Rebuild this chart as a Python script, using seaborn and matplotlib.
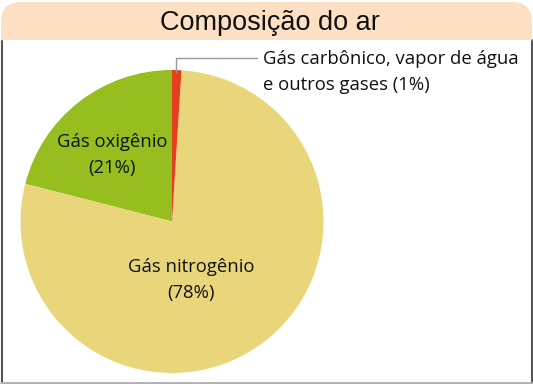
import matplotlib
matplotlib.use("Agg")
import matplotlib.pyplot as plt
import seaborn as sns
from matplotlib.patches import FancyBboxPatch, Rectangle

sns.set_theme(style="white")
plt.rcParams['font.family'] = ['Open Sans', 'DejaVu Sans']

title = "Composição do ar"
labels = ["Gás oxigênio\n(21%)", "Gás nitrogênio\n(78%)",
          "Gás carbônico, vapor de água\ne outros gases (1%)"]
values = [21, 78, 1]
colors = ["#96BE1E", "#EAD67A", "#E3401E"]

W, H = 533, 384
fig = plt.figure(figsize=(W / 100, H / 100), dpi=100)
ax = fig.add_axes([0, 0, 1, 1])

def py(y):
    return H - y

# pie
wedges, _ = ax.pie(values, colors=colors, startangle=90, counterclock=True,
                   center=(172, py(221.5)), radius=151.5, frame=True,
                   wedgeprops=dict(linewidth=0))
ax.set_xlim(0, W)
ax.set_ylim(0, H)
ax.axis("off")
for w in wedges:
    w.set_zorder(5)

# frame
ax.add_patch(Rectangle((1, py(382)), 530, 382 - 40, facecolor="white",
                       edgecolor="none", zorder=0))
ax.plot([1.5, 1.5], [py(40), py(382)], color="#555555", lw=1.5, zorder=1)
ax.plot([531.5, 531.5], [py(40), py(382)], color="#555555", lw=1.5, zorder=1)
ax.plot([1, 532], [py(382.5), py(382.5)], color="#b0b0b0", lw=2, zorder=1)

# title bar with rounded top corners
ax.add_patch(FancyBboxPatch((1, py(70)), 531, 68,
                            boxstyle="round,pad=0,rounding_size=20",
                            facecolor="#FDDFC3", edgecolor="none", zorder=2))
ax.add_patch(Rectangle((0, py(90)), W, 50, facecolor="white",
                       edgecolor="none", zorder=3))
ax.plot([1.5, 1.5], [py(41), py(90)], color="#555555", lw=1.5, zorder=4)
ax.plot([531.5, 531.5], [py(41), py(90)], color="#555555", lw=1.5, zorder=4)
ax.text(270, py(23), title, ha="center", va="center", fontsize=19.5,
        family=["Liberation Sans", "DejaVu Sans"], color="#111111", zorder=5)

# labels
ax.text(112, py(155), labels[0], ha="center", va="center", fontsize=13.3,
        color="#111111", linespacing=1.6, zorder=6)
ax.text(191, py(280), labels[1], ha="center", va="center", fontsize=13.3,
        color="#111111", linespacing=1.6, zorder=6)
ax.text(263, py(72), labels[2], ha="left", va="center", fontsize=13.3,
        color="#111111", linespacing=1.6, zorder=6)

# leader line
ax.plot([176, 176, 257], [py(72), py(58), py(58)], color="#9a9a9a",
        lw=1, zorder=6)

fig.savefig("out.png", dpi=100)
